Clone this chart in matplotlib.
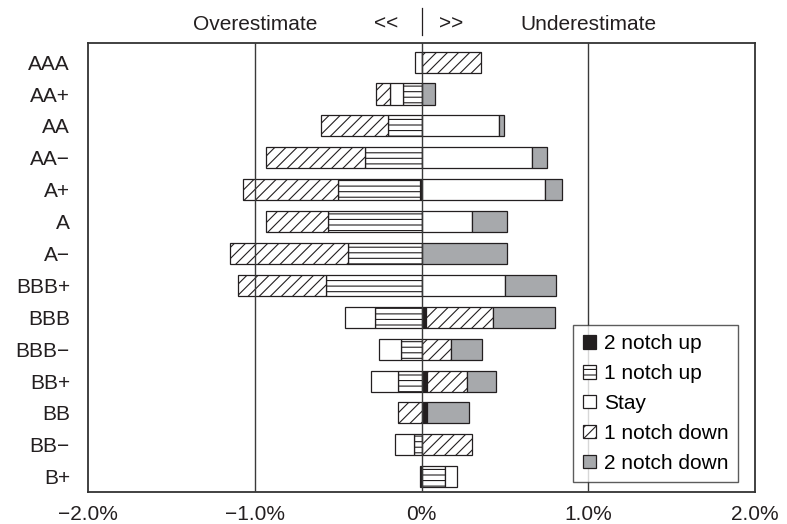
import matplotlib
matplotlib.use("Agg")
import matplotlib.pyplot as plt
import matplotlib.transforms as mtransforms
from matplotlib.patches import Patch
from matplotlib.lines import Line2D
import numpy as np

plt.rcParams["font.family"] = ["Liberation Sans", "DejaVu Sans"]
plt.rcParams["hatch.linewidth"] = 0.8

ratings = ["AAA", "AA+", "AA", "AA−", "A+", "A", "A−",
           "BBB+", "BBB", "BBB−", "BB+", "BB", "BB−", "B+"]

series = ["2 notch up", "1 notch up", "Stay", "1 notch down", "2 notch down"]

# Overestimate side (% , drawn to the left of zero)
over_2up   = [0.00, 0.00, 0.00, 0.00, 0.01, 0.00, 0.00, 0.00, 0.00, 0.00, 0.00, 0.00, 0.00, 0.01]
over_1up   = [0.00, 0.11, 0.20, 0.34, 0.49, 0.56, 0.44, 0.57, 0.28, 0.12, 0.14, 0.00, 0.045, 0.00]
over_stay  = [0.04, 0.08, 0.00, 0.00, 0.00, 0.00, 0.00, 0.00, 0.18, 0.135, 0.16, 0.00, 0.115, 0.00]
over_1down = [0.00, 0.08, 0.40, 0.59, 0.57, 0.37, 0.71, 0.53, 0.00, 0.00, 0.00, 0.14, 0.00, 0.00]
over_2down = [0.00, 0.00, 0.00, 0.00, 0.00, 0.00, 0.00, 0.00, 0.00, 0.00, 0.00, 0.00, 0.00, 0.00]

# Underestimate side (%, drawn to the right of zero)
under_2up   = [0.00, 0.00, 0.00, 0.00, 0.00, 0.00, 0.00, 0.00, 0.025, 0.00, 0.03, 0.035, 0.00, 0.00]
under_1up   = [0.00, 0.00, 0.00, 0.00, 0.00, 0.00, 0.00, 0.00, 0.00, 0.00, 0.00, 0.00, 0.00, 0.14]
under_stay  = [0.00, 0.00, 0.465, 0.665, 0.74, 0.305, 0.00, 0.50, 0.00, 0.00, 0.00, 0.00, 0.00, 0.07]
under_1down = [0.355, 0.00, 0.00, 0.00, 0.00, 0.00, 0.00, 0.00, 0.405, 0.175, 0.245, 0.00, 0.305, 0.00]
under_2down = [0.00, 0.08, 0.03, 0.085, 0.105, 0.21, 0.515, 0.305, 0.37, 0.19, 0.17, 0.25, 0.00, 0.00]

xticks = [-2.0, -1.0, 0.0, 1.0, 2.0]
xticklabels = ["−2.0%", "−1.0%", "0%", "1.0%", "2.0%"]

ink = "#231f20"
styles = [
    dict(facecolor=ink, hatch=None),
    dict(facecolor="white", hatch="---"),
    dict(facecolor="white", hatch=None),
    dict(facecolor="white", hatch="///"),
    dict(facecolor="#a7a9ac", hatch=None),
]

over = [over_2up, over_1up, over_stay, over_1down, over_2down]
under = [under_2up, under_1up, under_stay, under_1down, under_2down]

fig = plt.figure(figsize=(7.87, 5.24), dpi=100)
ax = fig.add_axes([88 / 787, 1 - 492 / 524, (755 - 88) / 787, (492 - 43) / 524])

y = np.arange(len(ratings))
bar_h = 0.66

left_base = np.zeros(len(ratings))
right_base = np.zeros(len(ratings))
for vals_o, vals_u, st in zip(over, under, styles):
    vo = np.array(vals_o)
    vu = np.array(vals_u)
    mo = vo > 0
    mu = vu > 0
    ax.barh(y[mo], -vo[mo], left=-left_base[mo], height=bar_h,
            facecolor=st["facecolor"], hatch=st["hatch"],
            edgecolor=ink, linewidth=0.9, zorder=2)
    ax.barh(y[mu], vu[mu], left=right_base[mu], height=bar_h,
            facecolor=st["facecolor"], hatch=st["hatch"],
            edgecolor=ink, linewidth=0.9, zorder=2)
    left_base += vo
    right_base += vu

line_col = "#3a3a3a"
for xv in (-1.0, 0.0, 1.0):
    ax.axvline(xv, color=line_col, linewidth=1.0, zorder=3)

ax.set_xlim(-2.0, 2.0)
ax.set_ylim(13.48, -0.6)
ax.set_yticks(y)
ax.set_yticklabels(ratings, fontsize=15)
ax.set_xticks(xticks)
ax.set_xticklabels(xticklabels, fontsize=15)
ax.tick_params(axis="y", length=0, pad=13, colors="#231f20")
ax.tick_params(axis="x", length=0, pad=9, colors="#231f20")
for sp in ax.spines.values():
    sp.set_color("#333333")
    sp.set_linewidth(1.3)

# Header above the plot: direction labels with a divider at zero
trans = mtransforms.blended_transform_factory(ax.transData, fig.transFigure)
ty = 1 - 29.5 / 524
hdr = dict(transform=trans, fontsize=15, va="baseline", ha="center", color="#231f20")
fig.text(-1.0, ty, "Overestimate", **hdr)
fig.text(1.0, ty, "Underestimate", **hdr)
fig.text(-0.215, ty, "<<", **hdr)
fig.text(0.175, ty, ">>", **hdr)
fig.add_artist(Line2D([0.0, 0.0], [1 - 8 / 524, 1 - 35 / 524], transform=trans,
                      color="#231f20", linewidth=0.9))

handles = [Patch(facecolor=st["facecolor"], hatch=st["hatch"], edgecolor=ink,
                 linewidth=0.9, label=lab) for st, lab in zip(styles, series)]
leg = ax.legend(handles=handles, loc="upper right",
                bbox_to_anchor=((738 - 88) / 667, (492 - 325) / 449),
                borderaxespad=0, fontsize=15, frameon=True, fancybox=False,
                handlelength=0.62, handleheight=0.62, handletextpad=0.4,
                borderpad=0.45, labelspacing=0.52)
leg.get_frame().set_edgecolor("#333333")
leg.get_frame().set_linewidth(1.0)
leg.set_zorder(5)

fig.savefig("out.png", dpi=100)
